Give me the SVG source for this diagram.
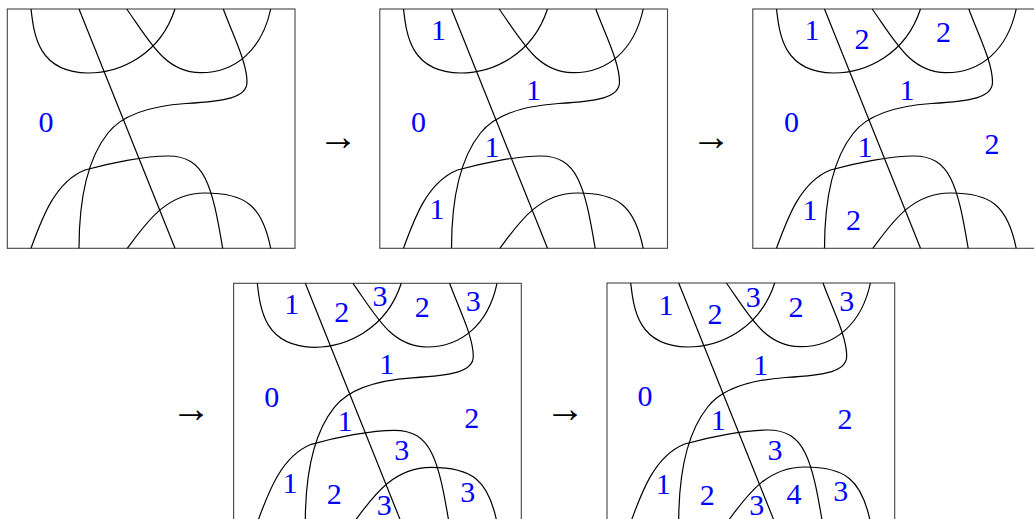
<svg xmlns="http://www.w3.org/2000/svg" xmlns:xlink="http://www.w3.org/1999/xlink" width="1034" height="519" viewBox="0 0 1034 519">
<style>
.frame{fill:none;stroke:#444;stroke-width:1.1}
.c{fill:none;stroke:#000;stroke-width:1.2}
.n{font-family:"Liberation Serif","DejaVu Serif",serif;font-size:30px;fill:#0000ff;text-anchor:middle}
.arr{font-family:"Liberation Serif","DejaVu Serif",serif;font-size:40px;fill:#000;text-anchor:middle}
</style>
<defs>
<g id="curves">
<path class="c" d="M31,9 C34,35 38,72 88,73 C120,73 160,55 175,9"/>
<path class="c" d="M126.7,9 C150,42 165,72 200,72.7 C235,73 262,50 270.7,9"/>
<path class="c" d="M79,9 L175,248.3"/>
<path class="c" d="M223.3,9 C232,33 247,62 247,82 C247,98 225,101 186,103.5 C150,106 122,115 108,133 C88,158 79,200 79,248.3"/>
<path class="c" d="M31,248.3 C42,218 55,182 85,170 C110,163 145,156 168,156 C205,156 212,185 222.7,248.3"/>
<path class="c" d="M127.3,248.3 C145,225 165,193 205,193 C245,193 262,205 270.7,248.3"/>
</g>
<rect id="box" class="frame" x="7.3" y="9" width="287.7" height="239.3"/>
</defs>
<g id="panel1">
<use xlink:href="#box"/><use xlink:href="#curves"/>
<text class="n" x="46" y="132">0</text>
</g>
<g id="panel2" transform="translate(372.5,0)">
<use xlink:href="#box"/><use xlink:href="#curves"/>
<text class="n" x="66" y="39.5">1</text>
<text class="n" x="161" y="100">1</text>
<text class="n" x="46" y="132">0</text>
<text class="n" x="119.5" y="157">1</text>
<text class="n" x="64.5" y="219">1</text>
</g>
<g id="panel3" transform="translate(745.5,0)">
<use xlink:href="#box"/><use xlink:href="#curves"/>
<text class="n" x="66.5" y="40">1</text>
<text class="n" x="116.5" y="48.5">2</text>
<text class="n" x="198" y="42">2</text>
<text class="n" x="161.5" y="100">1</text>
<text class="n" x="46" y="132">0</text>
<text class="n" x="246.5" y="153.5">2</text>
<text class="n" x="119.5" y="157">1</text>
<text class="n" x="64.5" y="220">1</text>
<text class="n" x="108" y="230">2</text>
</g>
<g id="panel4" transform="translate(226.3,274.3)">
<use xlink:href="#box"/><use xlink:href="#curves"/>
<text class="n" x="65.5" y="40">1</text>
<text class="n" x="115.5" y="48">2</text>
<text class="n" x="153.7" y="31.5">3</text>
<text class="n" x="196" y="42.5">2</text>
<text class="n" x="247" y="37">3</text>
<text class="n" x="160.5" y="100">1</text>
<text class="n" x="45.5" y="132.5">0</text>
<text class="n" x="245.5" y="154">2</text>
<text class="n" x="118.7" y="157">1</text>
<text class="n" x="175.5" y="186">3</text>
<text class="n" x="63.7" y="219">1</text>
<text class="n" x="108" y="229.5">2</text>
<text class="n" x="241.5" y="227.5">3</text>
<text class="n" x="158" y="240.5">3</text>
</g>
<g id="panel5" transform="translate(599.7,274)">
<use xlink:href="#box"/><use xlink:href="#curves"/>
<text class="n" x="66.3" y="41">1</text>
<text class="n" x="115.3" y="49.5">2</text>
<text class="n" x="153.6" y="32.5">3</text>
<text class="n" x="196.3" y="42.5">2</text>
<text class="n" x="247" y="37">3</text>
<text class="n" x="161" y="100.5">1</text>
<text class="n" x="45.3" y="132">0</text>
<text class="n" x="245.3" y="154.5">2</text>
<text class="n" x="118.6" y="156">1</text>
<text class="n" x="175.3" y="186">3</text>
<text class="n" x="63.6" y="219.5">1</text>
<text class="n" x="107.6" y="230.5">2</text>
<text class="n" x="194.3" y="229.5">4</text>
<text class="n" x="241" y="227">3</text>
<text class="n" x="157" y="240.5">3</text>
</g>
<g id="arrows">
<text class="arr" x="338" y="150">→</text>
<text class="arr" x="711" y="150">→</text>
<text class="arr" x="191" y="422">→</text>
<text class="arr" x="565" y="422">→</text>
</g>
</svg>
